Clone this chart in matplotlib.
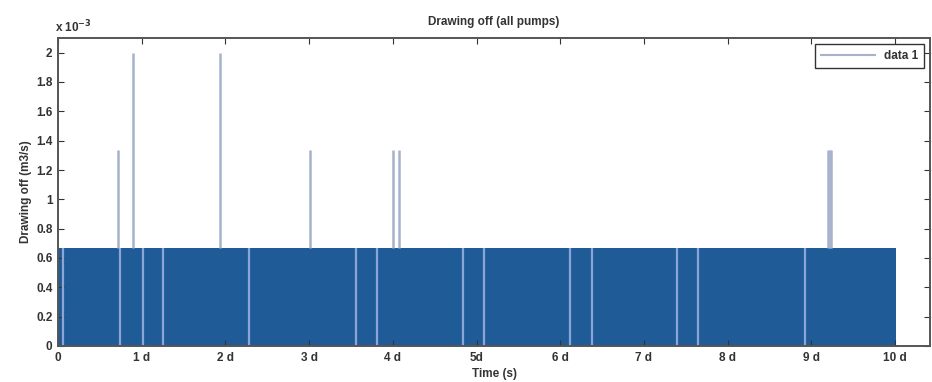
import matplotlib
matplotlib.use('Agg')
import matplotlib.pyplot as plt

# dados (tempo em dias, vazão em 1e-3 m3/s)
DAY = 86400.0
base_level = 0.667
run_end_day = 10.01
gap_days = [0.06, 0.74, 1.02, 1.25, 2.28, 3.56, 3.81, 4.84, 5.09,
            6.12, 6.38, 7.40, 7.65, 8.92]
spike_days = [0.72, 0.90, 1.94, 3.01, 4.00, 4.07, 9.20, 9.22, 9.24]
spike_values = [1.333, 2.0, 2.0, 1.333, 1.333, 1.333, 1.333, 1.333, 1.333]
tick_days = list(range(11))
tick_labels = ['0', '1 d', '2 d', '3 d', '4 d', '5d', '6 d', '7 d', '8 d', '9 d', '10 d']

plt.rcParams['font.family'] = ['Liberation Sans', 'DejaVu Sans']
plt.rcParams['font.weight'] = 'bold'
plt.rcParams['axes.titleweight'] = 'bold'
plt.rcParams['axes.labelweight'] = 'bold'
SIZE = 8.5
plt.rc('font', size=SIZE)

fig = plt.figure(figsize=(9.32, 3.82), dpi=100)
ax = fig.add_axes([58 / 932, 1 - 346 / 382, (930 - 58) / 932, (346 - 38) / 382])

dark = '#1f5b97'
light_gap = '#8ba5d6'
light_spike = '#a7b3cc'

# bloco principal (bombas ligadas)
ax.fill_between([0, run_end_day * DAY], 0, base_level, color=dark, lw=0, zorder=1)
# intervalos com vazão zero
ax.vlines([d * DAY for d in gap_days], 0, base_level, color=light_gap, lw=1.6, zorder=2)
# picos (mais de uma bomba)
ax.vlines([d * DAY for d in spike_days], base_level, spike_values,
          color=light_spike, lw=1.8, zorder=2)
ax.plot([], [], color=light_spike, lw=1.5, label='data 1')

ax.set_xlim(0, 9e5)
ax.set_ylim(0, 2.1)
ax.set_xticks([d * DAY for d in tick_days])
ax.set_xticklabels(tick_labels)
ax.set_yticks([0, 0.2, 0.4, 0.6, 0.8, 1, 1.2, 1.4, 1.6, 1.8, 2])
ax.set_yticklabels(['0', '0.2', '0.4', '0.6', '0.8', '1', '1.2', '1.4', '1.6', '1.8', '2'])
ax.tick_params(direction='in', top=True, right=True, length=4, width=0.8,
               colors='#333333', labelcolor='#333333', pad=4)
for s in ax.spines.values():
    s.set_color('#555555')
    s.set_linewidth(1.4)

ax.set_title('Drawing off (all pumps)', fontsize=8.5, pad=9, color='#333333')
ax.set_xlabel('Time (s)', fontsize=8.5, labelpad=3, color='#333333')
ax.set_ylabel('Drawing off (m3/s)', fontsize=8.5, labelpad=3, color='#333333')
ax.text(-0.004, 1.01, r'x 10$^{-3}$', transform=ax.transAxes, fontsize=8.5,
        ha='left', va='bottom', color='#333333')

leg = ax.legend(loc='upper right', fontsize=8.5, fancybox=False, framealpha=1,
                edgecolor='#333333', handlelength=4.5, borderaxespad=0.5,
                borderpad=0.5)
leg.get_frame().set_linewidth(1.0)
for t in leg.get_texts():
    t.set_color('#333333')

fig.savefig('out.png', dpi=100)
